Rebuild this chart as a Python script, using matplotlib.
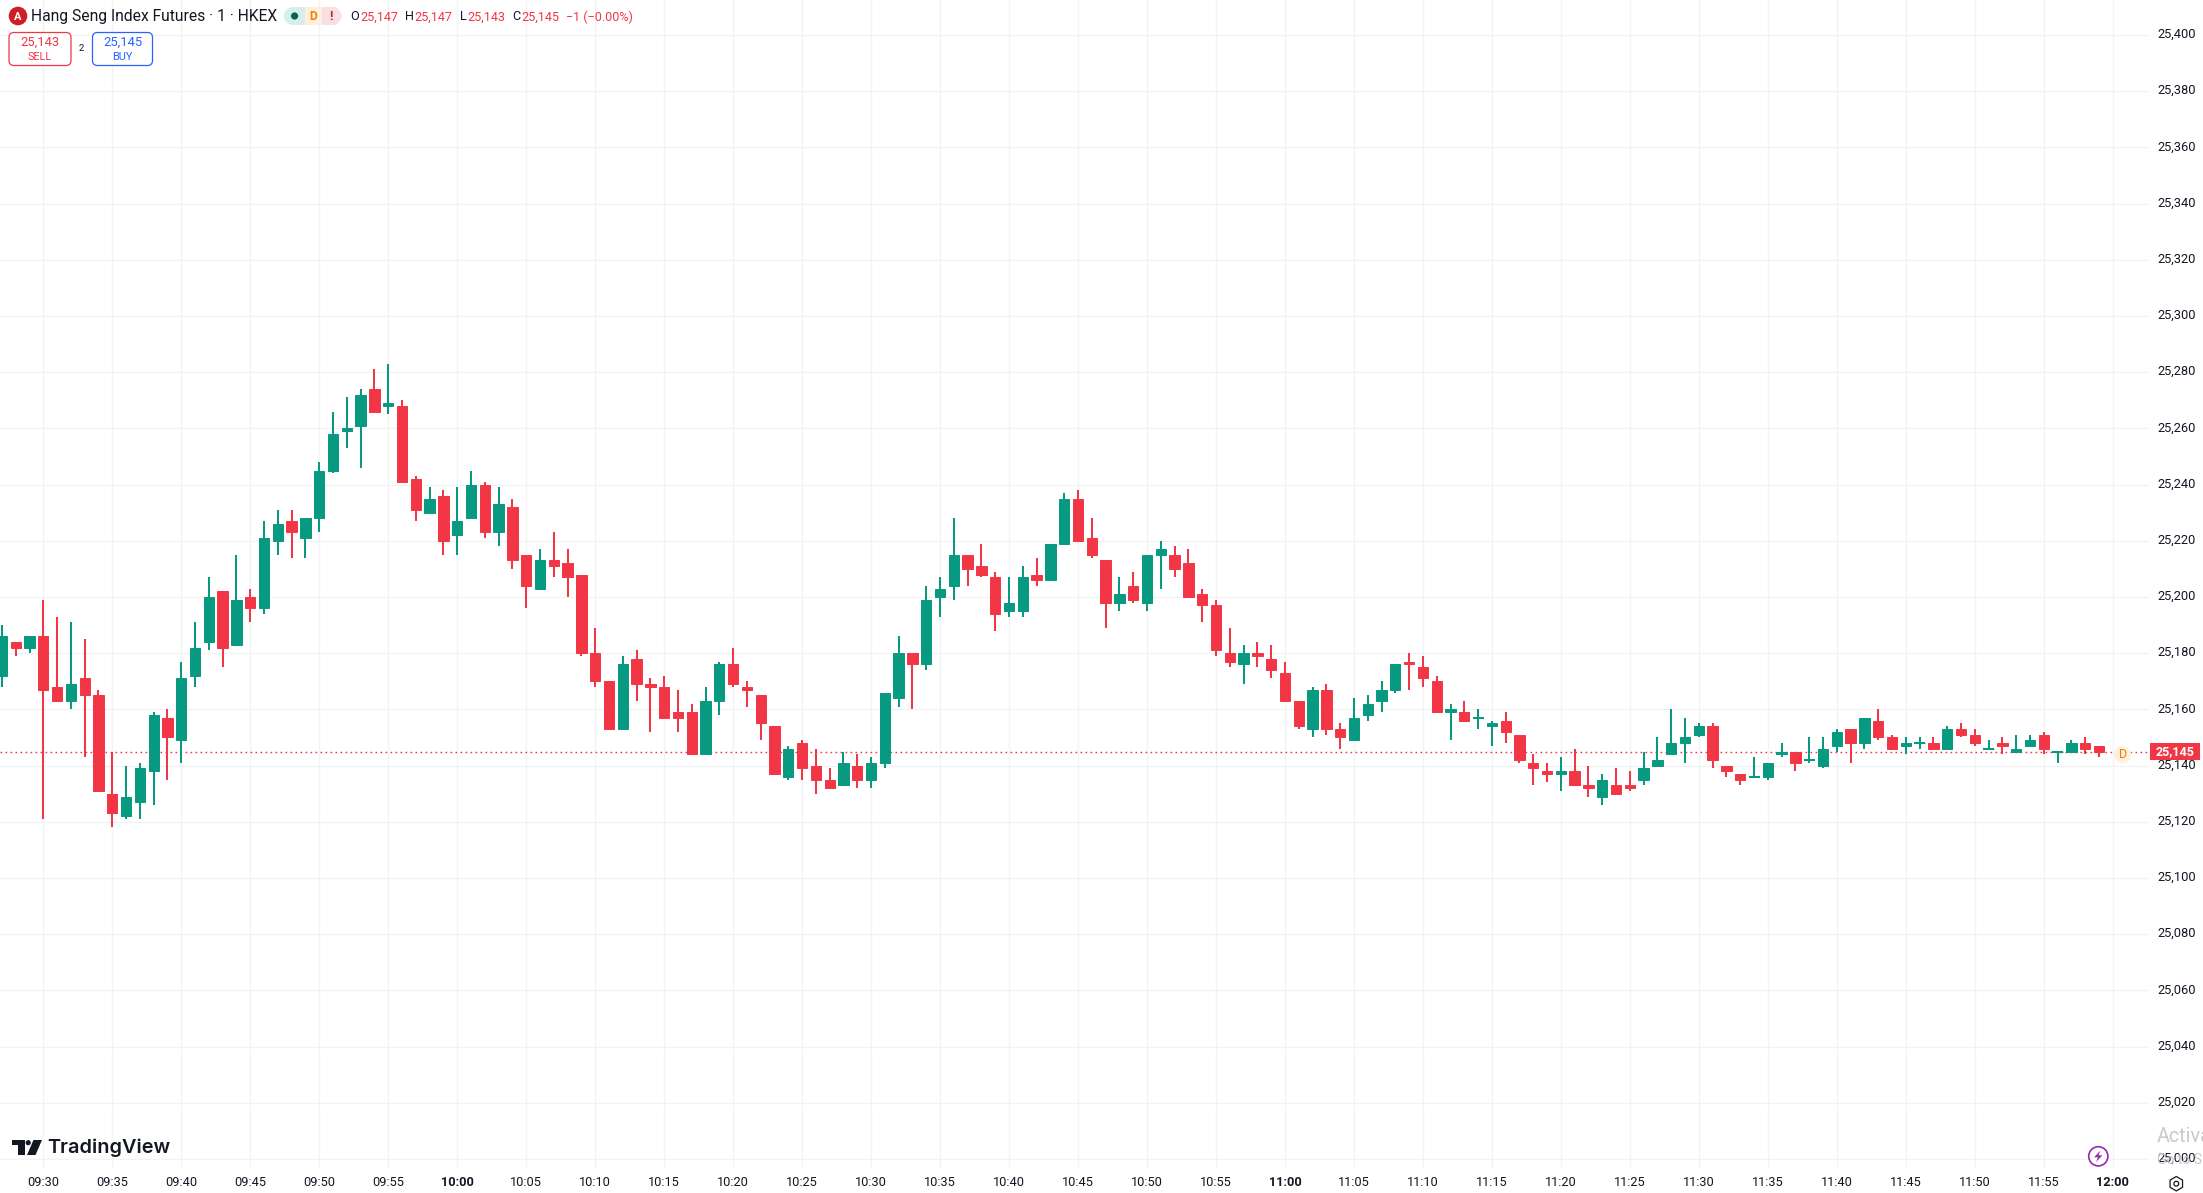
import numpy as np
import matplotlib
matplotlib.use('Agg')
import matplotlib.pyplot as plt
from matplotlib.patches import Circle, FancyBboxPatch, Polygon, Rectangle, RegularPolygon
from matplotlib.transforms import ScaledTranslation

plt.rcParams['font.family'] = ['Roboto', 'DejaVu Sans']

W, H = 2203, 1193
UP = '#089981'
DOWN = '#F23645'
INK = '#131722'
GRID = '#f2f3f5'

# one candle per minute, minute 0 is 09:30
minutes = np.arange(-3, 150)
opens = [25172,25184,25182,25186,25168,25163,25171,25165,25130,25122,
         25127,25138,25157,25149,25172,25184,25202,25183,25200,25196,
         25220,25227,25221,25228,25245,25259,25261,25274,25268,25268,
         25242,25230,25236,25222,25228,25240,25223,25232,25215,25203,
         25213,25212,25208,25180,25170,25153,25178,25169,25168,25159,
         25159,25144,25163,25176,25168,25165,25154,25136,25148,25140,
         25135,25133,25140,25135,25141,25164,25180,25176,25200,25204,
         25215,25211,25207,25195,25195,25208,25206,25219,25235,25221,
         25213,25198,25204,25198,25215,25215,25212,25201,25197,25180,
         25176,25180,25178,25173,25163,25153,25167,25153,25149,25158,
         25163,25167,25177,25175,25170,25159,25159,25157,25154,25156,
         25151,25141,25138,25137,25138,25133,25129,25133,25133,25135,
         25140,25144,25148,25151,25154,25140,25137,25136,25136,25144,
         25145,25142,25140,25147,25153,25148,25156,25150,25147,25148,
         25148,25146,25153,25151,25146,25148,25145,25147,25151,25145,
         25145,25148,25147]
highs = [25190,25184,25186,25199,25193,25191,25185,25167,25145,25140,
         25141,25159,25160,25177,25191,25207,25202,25215,25203,25227,
         25231,25231,25228,25248,25266,25271,25274,25281,25283,25270,
         25243,25239,25238,25239,25245,25241,25239,25235,25215,25217,
         25223,25217,25208,25189,25170,25179,25181,25171,25172,25167,
         25162,25168,25177,25182,25170,25165,25154,25147,25149,25146,
         25139,25145,25144,25143,25166,25186,25180,25204,25207,25228,
         25215,25219,25209,25207,25211,25214,25219,25237,25238,25228,
         25213,25207,25209,25215,25220,25218,25217,25203,25199,25189,
         25183,25184,25183,25177,25163,25168,25169,25155,25164,25165,
         25170,25176,25180,25179,25172,25162,25163,25160,25156,25159,
         25151,25144,25141,25143,25146,25140,25137,25139,25138,25145,
         25150,25160,25157,25155,25155,25140,25137,25143,25141,25148,
         25145,25150,25150,25153,25153,25157,25160,25151,25150,25150,
         25150,25154,25155,25153,25149,25150,25151,25151,25152,25145,
         25149,25150,25147]
lows = [25168,25179,25180,25121,25163,25160,25143,25131,25118,25121,
        25121,25126,25135,25141,25168,25181,25175,25183,25191,25194,
        25215,25214,25214,25223,25244,25253,25246,25266,25265,25241,
        25227,25230,25215,25215,25228,25221,25218,25210,25196,25203,
        25207,25200,25179,25168,25153,25153,25163,25152,25157,25152,
        25144,25144,25158,25168,25161,25149,25137,25135,25135,25130,
        25132,25133,25132,25132,25139,25161,25160,25174,25193,25199,
        25204,25207,25188,25193,25193,25204,25206,25219,25220,25214,
        25189,25195,25198,25195,25203,25207,25200,25191,25179,25175,
        25169,25175,25171,25163,25153,25150,25151,25146,25149,25156,
        25159,25166,25167,25168,25159,25149,25156,25153,25147,25148,
        25141,25133,25134,25131,25133,25129,25126,25130,25131,25133,
        25140,25144,25141,25150,25139,25136,25133,25136,25135,25143,
        25138,25141,25139,25145,25141,25146,25149,25146,25144,25146,
        25146,25146,25150,25147,25146,25144,25145,25147,25144,25141,
        25145,25144,25143]
closes = [25186,25182,25186,25167,25163,25169,25165,25131,25123,25129,
          25139,25158,25150,25171,25182,25200,25182,25199,25196,25221,
          25226,25223,25228,25245,25258,25260,25272,25266,25269,25241,
          25231,25235,25220,25227,25240,25223,25233,25213,25204,25213,
          25211,25207,25180,25170,25153,25176,25169,25168,25157,25157,
          25144,25163,25176,25169,25167,25155,25137,25146,25139,25135,
          25132,25141,25135,25141,25166,25180,25176,25199,25203,25215,
          25210,25208,25194,25198,25207,25206,25219,25235,25220,25215,
          25198,25201,25199,25215,25217,25210,25200,25197,25181,25177,
          25180,25179,25174,25163,25154,25167,25153,25150,25157,25162,
          25167,25176,25176,25171,25159,25160,25156,25157,25155,25152,
          25142,25139,25137,25138,25133,25132,25135,25130,25132,25139,
          25142,25148,25150,25154,25142,25138,25135,25136,25141,25145,
          25141,25142,25146,25152,25148,25157,25150,25146,25148,25148,
          25146,25153,25151,25148,25146,25147,25146,25149,25146,25145,
          25148,25146,25145]

time_ticks = np.arange(0, 151, 5)
time_labels = ['09:30', '09:35', '09:40', '09:45', '09:50', '09:55', '10:00', '10:05',
               '10:10', '10:15', '10:20', '10:25', '10:30', '10:35', '10:40', '10:45',
               '10:50', '10:55', '11:00', '11:05', '11:10', '11:15', '11:20', '11:25',
               '11:30', '11:35', '11:40', '11:45', '11:50', '11:55', '12:00']
price_ticks = np.arange(25000, 25401, 20)
last_price = 25145

o, h, l, c = map(np.array, (opens, highs, lows, closes))
colors = np.where(c >= o, UP, DOWN)

fig = plt.figure(figsize=(W / 100, H / 100), dpi=100, facecolor='white')
ax = fig.add_axes([0, 1 - 1169 / H, 2149 / W, 1169 / H])
ax.set_xlim(-3.139, 152.63)
ax.set_ylim(24996.44, 25412.45)
for s in ax.spines.values():
    s.set_visible(False)

ax.set_xticks(time_ticks)
ax.set_xticklabels(time_labels)
ax.set_yticks(price_ticks)
ax.set_yticklabels([f'{p:,}' for p in price_ticks])
ax.yaxis.tick_right()
ax.tick_params(axis='x', length=0, pad=5.0, labelsize=9.2, labelcolor=INK)
ax.tick_params(axis='y', length=0, pad=6.0, labelsize=9.3, labelcolor=INK)
for lab in ax.get_xticklabels():
    if lab.get_text().endswith(':00'):
        lab.set_fontweight('bold')
# price labels sit a touch above their grid lines
up_2px = ScaledTranslation(0, 2 / 100, fig.dpi_scale_trans)
for lab in ax.get_yticklabels():
    lab.set_transform(lab.get_transform() + up_2px)
ax.grid(True, color=GRID, lw=1.0)
ax.set_axisbelow(True)

ax.axhline(last_price, color=DOWN, lw=1.0, ls=(0, (1.2, 2.4)), zorder=1.5)

ax.vlines(minutes, l, h, colors=colors, lw=1.45, zorder=2)
ax.bar(minutes, np.abs(c - o), bottom=np.minimum(o, c), width=0.75, color=colors,
       edgecolor=colors, lw=0.7, zorder=3)
flat = c == o
ax.hlines(c[flat], minutes[flat] - 0.4, minutes[flat] + 0.4, colors=colors[flat], lw=1.45, zorder=3)

# screen furniture drawn in pixel coordinates on top of the chart
ov = fig.add_axes([0, 0, 1, 1], facecolor='none')
ov.set_xlim(0, W)
ov.set_ylim(H, 0)
ov.axis('off')

ov.add_patch(Circle((18, 16), 9.3, color='#cf1f26', lw=0))
ov.text(18, 16.5, 'A', color='white', fontsize=8, fontweight='bold', ha='center', va='center')
ov.text(31, 17, 'Hang Seng Index Futures · 1 · HKEX', color=INK, fontsize=11.25, va='center')

ov.add_patch(Rectangle((293, 7), 11.5, 18, color='#d8efe9', lw=0))
ov.add_patch(Circle((293, 16), 9, color='#d8efe9', lw=0))
ov.add_patch(Rectangle((304.5, 7), 17, 18, color='#fff0dc', lw=0))
ov.add_patch(Rectangle((321.5, 7), 11, 18, color='#f8dfe2', lw=0))
ov.add_patch(Circle((332.5, 16), 9, color='#f8dfe2', lw=0))
ov.add_patch(Circle((294.6, 16), 3.6, color='#056656', lw=0))
ov.text(313.4, 16.5, 'D', color='#f57c00', fontsize=8.6, fontweight='bold', ha='center', va='center')
ov.text(331, 16.5, '!', color='#b22833', fontsize=9.5, fontweight='bold', ha='center', va='center')

for x, letter, xv, val in [(350.4, 'O', 360.7, '25,147'), (405, 'H', 414.7, '25,147'),
                           (459.8, 'L', 467, '25,143'), (512, 'C', 521, '25,145')]:
    ov.text(x, 17, letter, color=INK, fontsize=9.1, va='center')
    ov.text(xv, 17, val, color=DOWN, fontsize=9.1, va='center')
ov.text(565.6, 17, '−1 (−0.00%)', color=DOWN, fontsize=9.0, va='center')

ov.add_patch(FancyBboxPatch((9, 32.5), 62, 33, boxstyle='round,pad=0,rounding_size=5',
                            fc='white', ec=DOWN, lw=0.9))
ov.text(40, 42.7, '25,143', color=DOWN, fontsize=9.4, ha='center', va='center')
ov.text(40, 56.8, 'SELL', color=DOWN, fontsize=7.9, ha='center', va='center')
ov.text(80.8, 48.7, '2', color=INK, fontsize=6.8, ha='center', va='center')
ov.add_patch(FancyBboxPatch((92.5, 32.5), 60, 33, boxstyle='round,pad=0,rounding_size=5',
                            fc='white', ec='#2962FF', lw=0.9))
ov.text(122.5, 42.7, '25,145', color='#2962FF', fontsize=9.4, ha='center', va='center')
ov.text(122.5, 56.8, 'BUY', color='#2962FF', fontsize=7.9, ha='center', va='center')

# last price tag and marker
ov.add_patch(Rectangle((2150, 743), 50, 17, color=DOWN, lw=0))
ov.text(2175, 751.5, f'{last_price:,}', color='white', fontsize=9.0, fontweight='bold', ha='center', va='center')
ov.add_patch(Circle((2122.7, 754.7), 8.5, color='#fdf0dc', lw=0))
ov.text(2122.7, 755, 'D', color='#f57c00', fontsize=9, ha='center', va='center')

# TradingView logo
logo = '#131722'
ov.add_patch(Polygon([(12, 1140), (25, 1140), (25, 1155), (18.3, 1155), (18.3, 1145), (12, 1145)], color=logo, lw=0))
ov.add_patch(Circle((28.2, 1142.7), 2.6, color=logo, lw=0))
ov.add_patch(Polygon([(33.5, 1140), (42, 1140), (35.5, 1155), (27, 1155)], color=logo, lw=0))
ov.text(47.5, 1148, 'TradingView', color=logo, fontsize=14.3, fontweight=600, family='Inter', va='center')

# lightning button and settings hexagon
ov.add_patch(Circle((2098.3, 1156.3), 9.6, fc='white', ec='#9c27b0', lw=1.2))
ov.add_patch(Polygon([(2100.5, 1150.5), (2094, 1157.3), (2098, 1157.3), (2096, 1162),
                      (2102.5, 1155.3), (2098.5, 1155.3)], color='#9c27b0', lw=0))
ov.add_patch(RegularPolygon((2176.3, 1183.7), 6, radius=7.2, fc='none', ec=INK, lw=0.9))
ov.add_patch(Circle((2176.3, 1183.7), 2.4, fc='none', ec=INK, lw=0.9))

# windows watermark, the reference shows only its start at the right edge
ov.text(2157, 1137, 'Activa', color='#c9c9c9', fontsize=14.2, va='center', clip_on=False)
ov.text(2157, 1160, 'Go to S', color='#c9c9c9', fontsize=10, va='center', clip_on=False)

fig.savefig('out.png', dpi=100)
